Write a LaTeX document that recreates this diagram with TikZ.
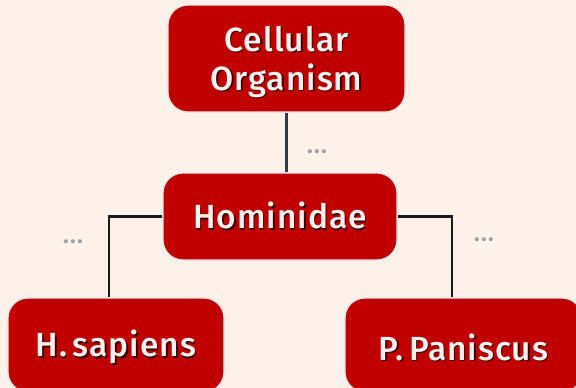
\documentclass[tikz,border=0pt]{standalone}
\usepackage{fontspec}
\setmainfont{Fira Sans Medium}[LetterSpace=3]
\usetikzlibrary{calc}
\definecolor{bg}{HTML}{FDF1E9}
\definecolor{boxred}{HTML}{C00000}
\definecolor{boxedge}{HTML}{E6E6E6}
\definecolor{slate}{HTML}{2F3B4A}
\definecolor{dotgray}{HTML}{A0A0A0}
\newcommand{\shadowtxt}[1]{\makebox[0pt][l]{\raisebox{-1.5pt}{\hspace{1.5pt}\textcolor{black!70!boxred}{#1}}}\textcolor{white!94!boxred}{#1}}
\newcommand{\dotstxt}{\makebox[0pt][l]{\raisebox{-1pt}{\hspace{1pt}\textcolor{white}{...}}}\textcolor{dotgray}{...}}
\begin{document}
\begin{tikzpicture}[x=1pt,y=-1pt,
  box/.style={draw=boxedge,line width=1.2pt,fill=boxred,rounded corners=20pt,inner sep=0pt},
  txt/.style={align=center,inner sep=0pt,font=\fontsize{33.5}{39}\selectfont},
  conn/.style={line width=2.3pt},
  dots/.style={font=\fontsize{26}{26}\selectfont,inner sep=0pt}]
\fill[bg] (0,0) rectangle (576,388);
\useasboundingbox (0,0) rectangle (576,388);
\clip (0,0) rectangle (576,388);
\node[box,minimum width=237pt,minimum height=107pt] (top) at (286.5,58.5) {};
\node[box,minimum width=234pt,minimum height=87pt] (mid) at (280,216.5) {};
\node[box,minimum width=216pt,minimum height=94pt] (left) at (116,345) {};
\node[box,minimum width=237pt,minimum height=94pt] (right) at (463.5,345) {};
\node[txt] (topt) at ([yshift=-4pt]top.center) {\shadowtxt{Cellular}\\\shadowtxt{Organism}};
\node[txt] (midt) at (mid.center) {\shadowtxt{Hominidae}};
\node[txt] (leftt) at ([yshift=-3pt]left.center) {\shadowtxt{H.\,sapiens}};
\node[txt] (rightt) at ([yshift=-3pt]right.center) {\shadowtxt{P.\,Paniscus}};
\draw[conn,slate] (top.south) -- (top.south |- mid.north);
\draw[conn,black!90] (mid.west) -| ([xshift=-7pt]left.north);
\draw[conn,black!90] (mid.east) -| ([xshift=-11.5pt]right.north);
\node[dots] (d1) at (317,152) {\dotstxt};
\node[dots] (d2) at (73,242) {\dotstxt};
\node[dots] (d3) at (484,240) {\dotstxt};
\end{tikzpicture}
\end{document}
